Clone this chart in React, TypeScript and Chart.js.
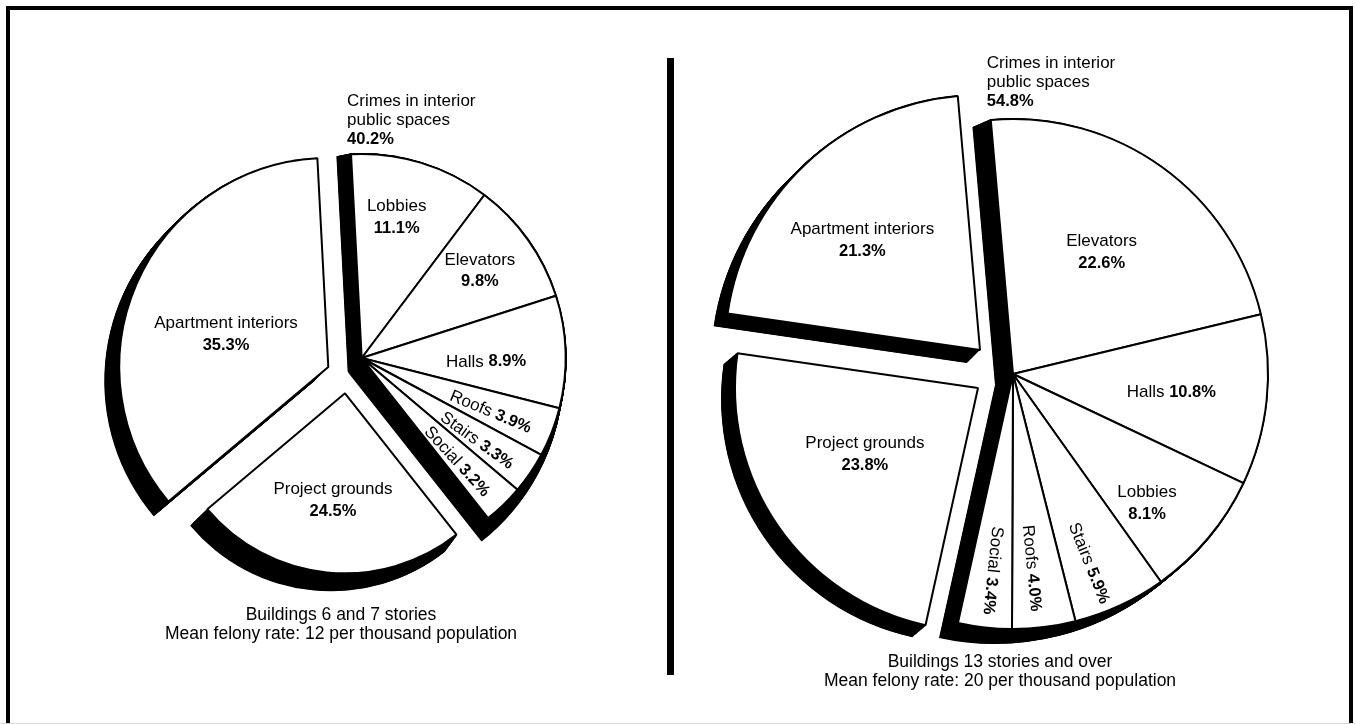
import React, { useEffect, useRef } from "react";
import { Chart, registerables } from "chart.js";

Chart.register(...registerables);

// ---------------- data ----------------
const interiorHeader = ["Crimes in interior", "public spaces"];

const leftCategories = ["Lobbies", "Elevators", "Halls", "Roofs", "Stairs", "Social", "Project grounds", "Apartment interiors"];
const leftValues = [11.1, 9.8, 8.9, 3.9, 3.3, 3.2, 24.5, 35.3];
const leftGroups = ["interior", "interior", "interior", "interior", "interior", "interior", "grounds", "apartment"];
const leftInteriorShare = 40.2;
const leftCaption = ["Buildings 6 and 7 stories", "Mean felony rate: 12 per thousand population"];

const rightCategories = ["Elevators", "Halls", "Lobbies", "Stairs", "Roofs", "Social", "Project grounds", "Apartment interiors"];
const rightValues = [22.6, 10.8, 8.1, 5.9, 4.0, 3.4, 23.8, 21.3];
const rightGroups = ["interior", "interior", "interior", "interior", "interior", "interior", "grounds", "apartment"];
const rightInteriorShare = 54.8;
const rightCaption = ["Buildings 13 stories and over", "Mean felony rate: 20 per thousand population"];

// ---------------- styling / layout ----------------
const FONT_FAMILY = '"Liberation Sans", Arial, Helvetica, sans-serif';
const NORMAL = `17px ${FONT_FAMILY}`;
const BOLD = `bold 16.5px ${FONT_FAMILY}`;
const CAPTION = `17.5px ${FONT_FAMILY}`;

type PieCfg = {
  width: number;
  height: number;
  cx: number;
  cy: number;
  rotation: number;
  categories: string[];
  values: number[];
  groups: string[];
  interiorShare: number;
  groupOffset: Record<string, [number, number]>;
  groupRadius: Record<string, number>;
  groupShadow: Record<string, [number, number, number]>; // dx, dy, extra radius
  labelKind: string[];
  labelPlace: [number, number][];
  headerGap: number;
  caption: string[];
  captionPos: [number, number];
};

const leftCfg: PieCfg = {
  width: 677,
  height: 724,
  cx: 345,
  cy: 372,
  rotation: -3,
  categories: leftCategories,
  values: leftValues,
  groups: leftGroups,
  interiorShare: leftInteriorShare,
  groupOffset: { interior: [16.7, -14], grounds: [0, 21.3], apartment: [-16.7, -5] },
  groupRadius: { interior: 204, grounds: 180, apartment: 209 },
  groupShadow: { interior: [-14, 14, 11], grounds: [-14, 14, 3], apartment: [-14, 14, 0] },
  labelKind: ["stack", "stack", "inline", "radial", "radial", "radial", "stack", "stack"],
  labelPlace: [[0.71, -3], [0.72, -1], [0.61, 3.5], [0.685, 1.5], [0.695, 1.5], [0.69, 1.5], [0.6, 0.6], [0.514, -5.6]],
  headerGap: 15,
  caption: leftCaption,
  captionPos: [341, 615],
};

const rightCfg: PieCfg = {
  width: 678,
  height: 724,
  cx: 315,
  cy: 372,
  rotation: -5,
  categories: rightCategories,
  values: rightValues,
  groups: rightGroups,
  interiorShare: rightInteriorShare,
  groupOffset: { interior: [21, 2], grounds: [-14, 16], apartment: [-12, -22] },
  groupRadius: { interior: 255, grounds: 243, apartment: 255 },
  groupShadow: { interior: [-18, 11, 3], grounds: [-13, 11, 0], apartment: [-13, 13, 0] },
  labelKind: ["stack", "inline", "stack", "radial", "radial", "radial", "stack", "stack"],
  labelPlace: [[0.59, 0.4], [0.625, 0.7], [0.73, 4], [0.80, 3], [0.765, 1.5], [0.775, -0.4], [0.54, 4.2], [0.63, -3.7]],
  headerGap: 19,
  caption: rightCaption,
  captionPos: [323, 662],
};

const pct = (v: number) => `${v.toFixed(1)}%`;

function drawInline(ctx: CanvasRenderingContext2D, name: string, val: string, x: number, y: number, rot: number) {
  ctx.save();
  ctx.translate(x, y);
  ctx.rotate(rot);
  ctx.textAlign = "left";
  ctx.textBaseline = "middle";
  ctx.font = NORMAL;
  const w1 = ctx.measureText(name + " ").width;
  ctx.font = BOLD;
  const w2 = ctx.measureText(val).width;
  const start = -(w1 + w2) / 2;
  ctx.font = NORMAL;
  ctx.fillText(name + " ", start, 0);
  ctx.font = BOLD;
  ctx.fillText(val, start + w1, 0);
  ctx.restore();
}

function makePlugin(cfg: PieCfg) {
  return {
    id: "explodedPie",
    afterDatasetsUpdate(chart: any) {
      const meta = chart.getDatasetMeta(0);
      meta.data.forEach((arc: any, i: number) => {
        const g = cfg.groups[i];
        const [dx, dy] = cfg.groupOffset[g];
        arc.x = cfg.cx + dx;
        arc.y = cfg.cy + dy;
        arc.outerRadius = cfg.groupRadius[g];
      });
    },
    beforeDatasetsDraw(chart: any) {
      const ctx: CanvasRenderingContext2D = chart.ctx;
      const meta = chart.getDatasetMeta(0);
      const steps = 40;
      ctx.save();
      ctx.fillStyle = "#000";
      meta.data.forEach((arc: any, i: number) => {
        const [sx, sy, k] = cfg.groupShadow[cfg.groups[i]];
        for (let s = 1; s <= steps; s++) {
          const t = s / steps;
          const x = arc.x + sx * t;
          const y = arc.y + sy * t;
          ctx.beginPath();
          ctx.moveTo(x, y);
          ctx.arc(x, y, arc.outerRadius + 1 + k * t, arc.startAngle, arc.endAngle);
          ctx.closePath();
          ctx.fill();
        }
      });
      ctx.restore();
    },
    afterDatasetsDraw(chart: any) {
      const ctx: CanvasRenderingContext2D = chart.ctx;
      const meta = chart.getDatasetMeta(0);
      ctx.save();
      ctx.fillStyle = "#000";
      meta.data.forEach((arc: any, i: number) => {
        const [frac, shiftDeg] = cfg.labelPlace[i];
        const mid = (arc.startAngle + arc.endAngle) / 2 + (shiftDeg * Math.PI) / 180;
        const r = arc.outerRadius * frac;
        const x = arc.x + Math.cos(mid) * r;
        const y = arc.y + Math.sin(mid) * r;
        const name = cfg.categories[i];
        const val = pct(cfg.values[i]);
        const kind = cfg.labelKind[i];
        if (kind === "stack") {
          ctx.textAlign = "center";
          ctx.textBaseline = "middle";
          ctx.font = NORMAL;
          ctx.fillText(name, x, y - 11);
          ctx.font = BOLD;
          ctx.fillText(val, x, y + 11);
        } else if (kind === "inline") {
          drawInline(ctx, name, val, x, y, 0);
        } else {
          drawInline(ctx, name, val, x, y, mid);
        }
      });

      // header above the interior group
      const first = meta.data[0] as any;
      const cornerX = first.x + Math.cos(first.startAngle) * first.outerRadius;
      const cornerY = first.y + Math.sin(first.startAngle) * first.outerRadius;
      ctx.textAlign = "left";
      ctx.textBaseline = "middle";
      const lines = [...interiorHeader, pct(cfg.interiorShare)];
      lines.forEach((ln, k) => {
        ctx.font = k === 2 ? BOLD : NORMAL;
        ctx.fillText(ln, cornerX - 4, cornerY - cfg.headerGap - 19 * (2 - k));
      });

      // caption
      ctx.textAlign = "center";
      ctx.font = CAPTION;
      cfg.caption.forEach((ln, k) => {
        ctx.fillText(ln, cfg.captionPos[0], cfg.captionPos[1] + 19 * k);
      });
      ctx.restore();
    },
  };
}

function makeChart(canvas: HTMLCanvasElement, cfg: PieCfg) {
  const pad = 50;
  return new Chart(canvas, {
    type: "pie",
    data: {
      labels: cfg.categories,
      datasets: [
        {
          data: cfg.values,
          backgroundColor: "#ffffff",
          borderColor: "#000000",
          borderWidth: 2,
          clip: false,
        } as any,
      ],
    },
    options: {
      responsive: false,
      animation: false,
      events: [],
      rotation: cfg.rotation,
      radius: 200,
      layout: {
        padding: {
          left: cfg.cx - pad,
          right: cfg.width - cfg.cx - pad,
          top: cfg.cy - pad,
          bottom: cfg.height - cfg.cy - pad,
        },
      },
      plugins: { legend: { display: false }, tooltip: { enabled: false } },
    } as any,
    plugins: [makePlugin(cfg) as any],
  });
}

export default function App() {
  const leftRef = useRef<HTMLCanvasElement | null>(null);
  const rightRef = useRef<HTMLCanvasElement | null>(null);

  useEffect(() => {
    const a = makeChart(leftRef.current!, leftCfg);
    const b = makeChart(rightRef.current!, rightCfg);
    return () => {
      a.destroy();
      b.destroy();
    };
  }, []);

  return (
    <div style={{ position: "absolute", left: 0, top: 0, width: 1355, height: 724, background: "#fff", overflow: "hidden" }}>
      <canvas ref={leftRef} width={677} height={724} style={{ position: "absolute", left: 0, top: 0 }} />
      <canvas ref={rightRef} width={678} height={724} style={{ position: "absolute", left: 677, top: 0 }} />
      <div
        style={{
          position: "absolute",
          left: 6,
          top: 6,
          width: 1347,
          height: 800,
          boxSizing: "border-box",
          borderTop: "4px solid #000",
          borderLeft: "4px solid #000",
          borderRight: "4px solid #000",
        }}
      />
      <div style={{ position: "absolute", left: 667, top: 58, width: 7, height: 617, background: "#000" }} />
      <div style={{ position: "absolute", left: 0, top: 723, width: 1355, height: 1, background: "#d8d8d8" }} />
    </div>
  );
}
